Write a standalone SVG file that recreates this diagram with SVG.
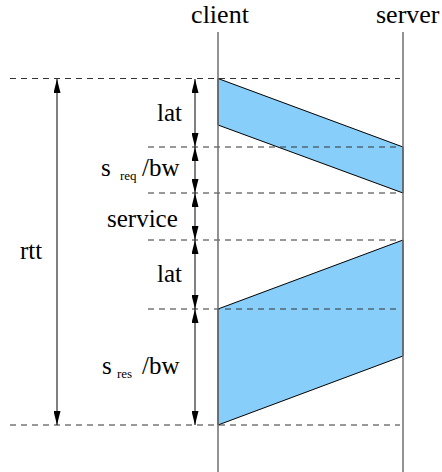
<svg xmlns="http://www.w3.org/2000/svg" width="442" height="472" viewBox="0 0 442 472">
<style>
text{font-family:'Liberation Serif','Times New Roman',Times,'DejaVu Serif','Noto Serif',serif;fill:#000}
.h{font-size:26px}
.l{font-size:25px}
.s{font-size:13px}
.d{stroke:#333;stroke-width:1;stroke-dasharray:6 5;fill:none}
.v{stroke:#6e6e6e;stroke-width:1.5;fill:none}
.p{fill:#87CEFA;stroke:#000;stroke-width:1;stroke-linejoin:round}
.a{stroke:#000;stroke-width:1;fill:none;marker-start:url(#ah);marker-end:url(#ah)}
</style>
<defs>
<marker id="ah" markerUnits="userSpaceOnUse" markerWidth="14" markerHeight="7" refX="14" refY="3.5" orient="auto-start-reverse" viewBox="0 0 14 7">
<path d="M0,0 L14,3.5 L0,7 z" fill="#000"/>
</marker>
</defs>
<rect width="442" height="472" fill="#fff"/>
<g id="request"><polygon class="p" points="218,78.5 403,147 403,193 218,125"/></g>
<g id="response"><polygon class="p" points="218,309 403,240 403,356 218,425"/></g>
<g id="guides">
<line class="d" x1="10" y1="78.5" x2="400" y2="78.5"/>
<line class="d" x1="148" y1="147" x2="400" y2="147"/>
<line class="d" x1="148" y1="193" x2="400" y2="193"/>
<line class="d" x1="148" y1="240" x2="400" y2="240"/>
<line class="d" x1="148" y1="309" x2="400" y2="309"/>
<line class="d" x1="10" y1="425" x2="400" y2="425"/>
</g>
<g id="client"><line class="v" x1="218" y1="32" x2="218" y2="472"/><text class="h" x="220" y="23" text-anchor="middle">client</text></g>
<g id="server"><line class="v" x1="403" y1="32" x2="403" y2="472"/><text class="h" x="376" y="23">server</text></g>
<g id="connectors">
<line class="a" x1="57" y1="79" x2="57" y2="425"/>
<line class="a" x1="195" y1="79" x2="195" y2="147"/>
<line class="a" x1="195" y1="147" x2="195" y2="193"/>
<line class="a" x1="195" y1="193" x2="195" y2="240"/>
<line class="a" x1="195" y1="240" x2="195" y2="309"/>
<line class="a" x1="195" y1="309" x2="195" y2="425"/>
</g>
<g id="labels">
<text class="l" x="20" y="259">rtt</text>
<text class="l" x="157" y="121">lat</text>
<text class="l"><tspan x="101" y="176">s</tspan><tspan class="s" x="120" y="180">req</tspan><tspan x="142" y="176">/bw</tspan></text>
<text class="l" x="107" y="227">service</text>
<text class="l" x="157" y="282">lat</text>
<text class="l"><tspan x="102" y="374">s</tspan><tspan class="s" x="117" y="378">res</tspan><tspan x="142" y="374">/bw</tspan></text>
</g>
</svg>
